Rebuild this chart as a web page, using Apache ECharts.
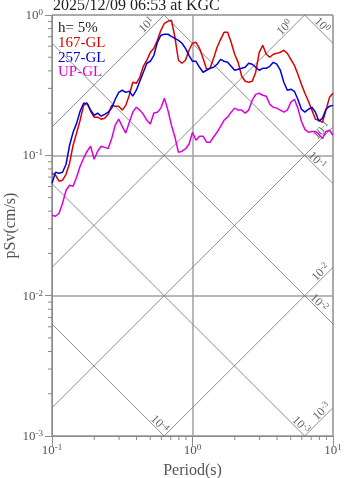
<!DOCTYPE html>
<html><head><meta charset="utf-8">
<script src="https://cdn.jsdelivr.net/npm/echarts@6/dist/echarts.min.js"></script>
<style>html,body{margin:0;padding:0;background:#fff}#c{width:347px;height:478px}</style>
</head><body><div id="c"></div>
<script>
// ---- data ----
const periods = [0.1,0.1059,0.1122,0.1189,0.1259,0.1334,0.1413,0.1496,0.1585,0.1679,0.1778,0.1884,0.1995,0.2113,0.2239,0.2371,0.2512,0.2661,0.2818,0.2985,0.3162,0.335,0.3548,0.3758,0.3981,0.4217,0.4467,0.4732,0.5012,0.5309,0.5623,0.5957,0.631,0.6683,0.7079,0.7499,0.7943,0.8414,0.8913,0.9441,1.0,1.059,1.122,1.189,1.259,1.334,1.413,1.496,1.585,1.679,1.778,1.884,1.995,2.113,2.239,2.371,2.512,2.661,2.818,2.985,3.162,3.35,3.548,3.758,3.981,4.217,4.467,4.732,5.012,5.309,5.623,5.957,6.31,6.683,7.079,7.499,7.943,8.414,8.913,9.441,10.0];
const psv167 = [0.0746,0.0722,0.0654,0.0665,0.0733,0.0879,0.118,0.144,0.178,0.227,
 0.235,0.206,0.187,0.187,0.181,0.184,0.196,0.227,0.224,0.224,
 0.210,0.227,0.268,0.332,0.326,0.360,0.431,0.476,0.542,0.579,
 0.660,0.778,0.873,0.902,0.917,0.694,0.476,0.453,0.476,0.561,
 0.629,0.639,0.579,0.491,0.410,0.417,0.491,0.589,0.671,0.753,
 0.753,0.639,0.525,0.460,0.366,0.337,0.332,0.337,0.391,0.542,
 0.608,0.525,0.500,0.525,0.533,0.542,0.561,0.533,0.483,0.438,
 0.378,0.321,0.277,0.243,0.210,0.181,0.178,0.172,0.210,0.259,0.277];
const psv257 = [0.0633,0.0758,0.0746,0.0758,0.0864,0.118,0.146,0.169,0.206,0.235,
 0.235,0.210,0.193,0.200,0.190,0.196,0.203,0.217,0.251,0.281,
 0.291,0.281,0.286,0.264,0.291,0.337,0.391,0.453,0.468,0.516,
 0.639,0.717,0.729,0.729,0.705,0.682,0.660,0.629,0.579,0.516,
 0.468,0.468,0.424,0.391,0.404,0.417,0.424,0.446,0.483,0.468,
 0.460,0.431,0.404,0.410,0.417,0.424,0.453,0.446,0.424,0.404,
 0.417,0.417,0.431,0.460,0.446,0.404,0.332,0.291,0.296,0.286,
 0.251,0.213,0.203,0.213,0.220,0.203,0.175,0.184,0.213,0.224,0.227];
const psvUP = [0.0374,0.0368,0.0387,0.0456,0.0564,0.0612,0.0602,0.0698,0.0836,0.0954,
 0.107,0.116,0.0938,0.107,0.116,0.114,0.112,0.132,0.164,0.181,
 0.161,0.144,0.172,0.203,0.220,0.210,0.196,0.178,0.167,0.200,
 0.203,0.217,0.255,0.210,0.164,0.135,0.105,0.107,0.111,0.120,
 0.146,0.128,0.137,0.137,0.124,0.124,0.135,0.146,0.161,0.178,
 0.187,0.203,0.217,0.210,0.210,0.200,0.210,0.247,0.272,0.277,
 0.268,0.264,0.231,0.220,0.217,0.210,0.203,0.210,0.239,0.251,
 0.217,0.175,0.153,0.146,0.148,0.148,0.141,0.132,0.148,0.151,0.139];
const seriesNames = ['167-GL','257-GL','UP-GL'];
const seriesColors = ['#dd0000','#0000dd','#dd00dd'];
const dampingText = 'h= 5%';
const titleText = '2025/12/09 06:53 at KGC';
const xName = 'Period(s)';
const yName = 'pSv(cm/s)';
const xMinor = [0.2,0.3,0.4,0.5,0.6,0.7,0.8,0.9,2,3,4,5,6,7,8,9];
const yMinor = [0.002,0.003,0.004,0.005,0.006,0.007,0.008,0.009,0.02,0.03,0.04,0.05,0.06,0.07,0.08,0.09,0.2,0.3,0.4,0.5,0.6,0.7,0.8,0.9];
// tripartite guide lines: displacement (cm) and acceleration (cm/s^2)
const dispLines = [1, 0.1, 0.01, 0.001, 0.0001];
const dispLabelT = [7.88, 7.26, 7.5, 5.58, 0.548];
const accLines = [10, 1, 0.1, 0.01, 0.001];
const accLabelT = [0.501, 4.81, 8.84, 8.70, 8.84];

// ---- helpers ----
const F = "'Liberation Serif','Times New Roman',serif";
const TWO_PI = 2 * Math.PI;
const vDisp = (D, T) => TWO_PI * D / T;
const vAcc = (A, T) => A * T / TWO_PI;
const supText = v => '{b|10}{s|' + Math.round(Math.log10(v)) + '}';
function richAxis(size, color) {
  const s = Math.round(size * 0.72);
  return { b: {fontFamily: F, fontSize: size, color, lineHeight: size + 1, verticalAlign: 'bottom'},
           s: {fontFamily: F, fontSize: s, color, lineHeight: s, verticalAlign: 'top', padding: [0, 0, 7, 0]} };
}
function richFill(size, color) {
  const s = Math.round(size * 0.72);
  return { b: {fontFamily: F, fontSize: size, fill: color, lineHeight: size + 1, verticalAlign: 'bottom'},
           s: {fontFamily: F, fontSize: s, fill: color, lineHeight: s, verticalAlign: 'top', padding: [0, 0, 6, 0]} };
}

const GUIDE = '#808080';
const series = [];
dispLines.forEach(D => series.push({
  type: 'line', silent: true, symbol: 'none', clip: true, z: 1,
  lineStyle: {color: GUIDE, width: 0.9}, data: [[0.1, vDisp(D, 0.1)], [10, vDisp(D, 10)]]
}));
accLines.forEach(A => series.push({
  type: 'line', silent: true, symbol: 'none', clip: true, z: 1,
  lineStyle: {color: GUIDE, width: 0.9}, data: [[0.1, vAcc(A, 0.1)], [10, vAcc(A, 10)]]
}));
const labelMeta = [];
accLines.forEach((A, i) => labelMeta.push({value: [accLabelT[i], vAcc(A, accLabelT[i])], txt: supText(A), kind: 'a'}));
dispLines.forEach((D, i) => labelMeta.push({value: [dispLabelT[i], vDisp(D, dispLabelT[i])], txt: supText(D), kind: 'd'}));
const LOFF = 5.5;
series.push({
  type: 'custom', silent: true, clip: false, z: 2,
  data: labelMeta.map(m => m.value),
  renderItem: (params, api) => {
    const m = labelMeta[params.dataIndex];
    const p = api.coord([api.value(0), api.value(1)]);
    const k = LOFF / Math.SQRT2;
    return {type: 'text', x: m.kind === 'a' ? p[0] - k : p[0] + k, y: p[1] - k,
      rotation: m.kind === 'a' ? Math.PI / 4 : -Math.PI / 4,
      style: {text: m.txt, rich: richFill(12, '#666'), align: 'center', verticalAlign: 'middle'}};
  }
});
// minor ticks
series.push({
  type: 'custom', silent: true, clip: false, z: 2,
  data: xMinor.map(t => [t, 0.001]),
  renderItem: (params, api) => {
    const p = api.coord([api.value(0), api.value(1)]);
    return {type: 'line', shape: {x1: p[0], y1: p[1], x2: p[0], y2: p[1] + 4}, style: {stroke: '#888', lineWidth: 1}};
  }
});
series.push({
  type: 'custom', silent: true, clip: false, z: 2,
  data: yMinor.map(v => [0.1, v]),
  renderItem: (params, api) => {
    const p = api.coord([api.value(0), api.value(1)]);
    return {type: 'line', shape: {x1: p[0] - 4, y1: p[1], x2: p[0], y2: p[1]}, style: {stroke: '#888', lineWidth: 1}};
  }
});
[psv167, psv257, psvUP].forEach((vals, i) => series.push({
  type: 'line', name: seriesNames[i], symbol: 'none', clip: true, z: 5,
  lineStyle: {color: seriesColors[i], width: 1.5},
  data: periods.map((t, j) => [t, vals[j]])
}));

const chart = echarts.init(document.getElementById('c'), null, {renderer: 'canvas'});
chart.setOption({
  animation: false,
  backgroundColor: '#fff',
  grid: {left: 52, top: 15, width: 281, height: 421, containLabel: false, outerBoundsMode: 'none',
         show: true, borderColor: '#8c8c8c', borderWidth: 1, backgroundColor: 'transparent'},
  xAxis: {
    type: 'log', logBase: 10, min: 0.1, max: 10,
    name: xName, nameLocation: 'middle', nameGap: 27, nameMoveOverlap: false,
    nameTextStyle: {fontFamily: F, fontSize: 16, color: '#555'},
    axisLine: {show: true, lineStyle: {color: '#8c8c8c'}},
    axisTick: {show: true, length: 10, lineStyle: {color: '#8c8c8c'}},
    axisLabel: {margin: 7, formatter: supText, rich: richAxis(13, '#555'), showMaxLabel: true, showMinLabel: true},
    splitLine: {show: true, lineStyle: {color: '#a0a0a0', width: 1.5}},
    minorTick: {show: false}
  },
  yAxis: {
    type: 'log', logBase: 10, min: 0.001, max: 1,
    name: yName, nameLocation: 'middle', nameGap: 33, nameMoveOverlap: false,
    nameTextStyle: {fontFamily: F, fontSize: 16, color: '#555'},
    axisLine: {show: true, lineStyle: {color: '#8c8c8c'}},
    axisTick: {show: true, length: 7, lineStyle: {color: '#8c8c8c'}},
    axisLabel: {margin: 9, formatter: supText, rich: richAxis(13, '#555'), showMaxLabel: true, showMinLabel: true},
    splitLine: {show: true, lineStyle: {color: '#a0a0a0', width: 1.5}},
    minorTick: {show: false}
  },
  graphic: [
    {type: 'text', x: 53, y: 5.5, style: {text: titleText, fontFamily: F, fontSize: 16, fill: '#222', verticalAlign: 'middle'}},
    {type: 'text', x: 58, y: 28.5, style: {text: dampingText, fontFamily: F, fontSize: 15, fill: '#222', verticalAlign: 'middle'}},
    {type: 'text', x: 58, y: 43.5, style: {text: seriesNames[0], fontFamily: F, fontSize: 15, fill: seriesColors[0], verticalAlign: 'middle'}},
    {type: 'text', x: 58, y: 58, style: {text: seriesNames[1], fontFamily: F, fontSize: 15, fill: seriesColors[1], verticalAlign: 'middle'}},
    {type: 'text', x: 58, y: 72.5, style: {text: seriesNames[2], fontFamily: F, fontSize: 15, fill: seriesColors[2], verticalAlign: 'middle'}}
  ],
  series
});
</script></body></html>
